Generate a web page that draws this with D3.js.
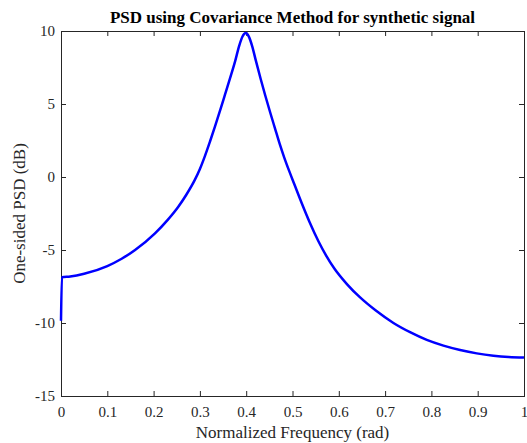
<!DOCTYPE html>
<html>
<head>
<meta charset="utf-8">
<script src="https://cdn.jsdelivr.net/npm/d3@7"></script>
<style>
  html, body { margin: 0; padding: 0; background: #fff; }
  svg { display: block; }
</style>
</head>
<body>
<svg id="chart" width="527" height="443"></svg>
<script>
// Data
const freq = [0, 0.002, 0.02, 0.05, 0.1, 0.131, 0.16, 0.203, 0.23, 0.253, 0.27, 0.289,
  0.3, 0.311, 0.322, 0.333, 0.344, 0.354, 0.365, 0.376, 0.385, 0.392, 0.399, 0.406, 0.413,
  0.421, 0.431, 0.441, 0.452, 0.462, 0.472, 0.482, 0.493, 0.504, 0.52, 0.537, 0.556, 0.573,
  0.59, 0.618, 0.646, 0.68, 0.718, 0.755, 0.79, 0.826, 0.862, 0.898, 0.934, 0.967, 1];
const psd = [-9.84, -6.87, -6.82, -6.63, -6.1, -5.6, -5.0, -3.86, -2.95, -2.05, -1.25, -0.2,
  0.55, 1.45, 2.45, 3.5, 4.6, 5.62, 6.75, 7.92, 9.0, 9.62, 9.86, 9.6, 8.95,
  7.95, 6.75, 5.6, 4.4, 3.35, 2.3, 1.35, 0.4, -0.5, -1.8, -3.1, -4.4, -5.4,
  -6.25, -7.35, -8.25, -9.15, -10.0, -10.65, -11.16, -11.55, -11.85, -12.08, -12.24, -12.33, -12.37];
const xTicks = [0, 0.1, 0.2, 0.3, 0.4, 0.5, 0.6, 0.7, 0.8, 0.9, 1];
const yTicks = [-15, -10, -5, 0, 5, 10];
const titleText = "PSD using Covariance Method for synthetic signal";
const xLabel = "Normalized Frequency (rad)";
const yLabel = "One-sided PSD (dB)";

const W = 527, H = 443;
const m = { left: 61, right: 3, top: 31, bottom: 47 };
const svg = d3.select("#chart");
const font = "'Liberation Serif', 'Times New Roman', serif";
const axisColor = "#262626";
const fmt = d => String(d);

const x = d3.scaleLinear().domain([0, 1]).range([m.left, W - m.right]);
const y = d3.scaleLinear().domain([-15, 10]).range([H - m.bottom, m.top]);

const x0 = x.range()[0], x1 = x.range()[1];
const y0 = y.range()[0], y1 = y.range()[1];
const tickLen = 5;

function styleAxis(g) {
  g.select(".domain").remove();
  g.selectAll(".tick line").attr("stroke", axisColor).attr("stroke-width", 1);
  g.selectAll(".tick text").attr("fill", axisColor).style("font-family", font).style("font-size", "15px");
}

svg.append("g").attr("transform", `translate(0,${y0})`)
  .call(d3.axisBottom(x).tickValues(xTicks).tickFormat(fmt).tickSizeInner(-tickLen).tickSizeOuter(0).tickPadding(10))
  .call(styleAxis);
svg.append("g").attr("transform", `translate(0,${y1})`)
  .call(d3.axisTop(x).tickValues(xTicks).tickFormat("").tickSizeInner(-tickLen).tickSizeOuter(0))
  .call(styleAxis);
svg.append("g").attr("transform", `translate(${x0},0)`)
  .call(d3.axisLeft(y).tickValues(yTicks).tickFormat(fmt).tickSizeInner(-tickLen).tickSizeOuter(0).tickPadding(6))
  .call(styleAxis);
svg.append("g").attr("transform", `translate(${x1},0)`)
  .call(d3.axisRight(y).tickValues(yTicks).tickFormat("").tickSizeInner(-tickLen).tickSizeOuter(0))
  .call(styleAxis);

svg.append("rect")
  .attr("x", x0).attr("y", y1).attr("width", x1 - x0).attr("height", y0 - y1)
  .attr("fill", "none").attr("stroke", axisColor).attr("stroke-width", 1)
  .attr("shape-rendering", "crispEdges");

const pts = freq.map((f, i) => [f, psd[i]]);
const line = d3.line().x(d => x(d[0])).y(d => y(d[1])).curve(d3.curveMonotoneX);
svg.append("path").datum(pts)
  .attr("d", line).attr("fill", "none").attr("stroke", "#0000ff")
  .attr("stroke-width", 2.5).attr("stroke-linejoin", "round");

svg.append("text")
  .attr("x", (x0 + x1) / 2).attr("y", 23)
  .attr("text-anchor", "middle")
  .style("font-family", font).style("font-size", "17px").style("font-weight", "bold")
  .attr("fill", "#000").text(titleText);

svg.append("text")
  .attr("x", (x0 + x1) / 2).attr("y", 438)
  .attr("text-anchor", "middle")
  .style("font-family", font).style("font-size", "17px")
  .attr("fill", axisColor).text(xLabel);

svg.append("text")
  .attr("transform", `translate(25,${(y0 + y1) / 2}) rotate(-90)`)
  .attr("text-anchor", "middle")
  .style("font-family", font).style("font-size", "17px")
  .attr("fill", axisColor).text(yLabel);
</script>
</body>
</html>
